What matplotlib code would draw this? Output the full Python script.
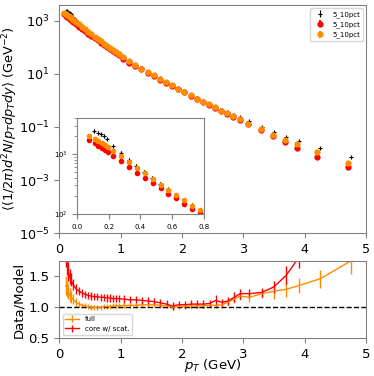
import numpy as np
import matplotlib
matplotlib.use('Agg')
import matplotlib.pyplot as plt
from matplotlib.ticker import NullLocator

# data points (pT bin centres) and spectrum
pt_data = [0.11, 0.13, 0.15, 0.17, 0.19, 0.225, 0.275, 0.325, 0.375, 0.425, 0.475,
           0.525, 0.575, 0.625, 0.675, 0.725, 0.775, 0.825, 0.875, 0.925, 0.975,
           1.05, 1.15, 1.25, 1.35, 1.45, 1.55, 1.65, 1.75, 1.85, 1.95,
           2.05, 2.15, 2.25, 2.35, 2.45, 2.55, 2.65, 2.75, 2.85, 2.95,
           3.1, 3.3, 3.5, 3.7, 3.9, 4.25, 4.75]
y_data = [2455, 2291, 2138, 1995, 1820, 1349, 1047, 794, 631, 501, 398,
          316, 257, 209, 174, 141, 117, 97.7, 81.3, 67.6, 56.2,
          42.7, 30.2, 21.9, 16.2, 12.0, 9.33, 6.76, 4.90, 3.72, 2.79,
          2.11, 1.58, 1.20, 0.912, 0.724, 0.562, 0.427, 0.355, 0.282, 0.240,
          0.164, 0.102, 0.0646, 0.0437, 0.0309, 0.0166, 0.00741]

# model points
pt_model = [0.075, 0.115, 0.135, 0.155, 0.175, 0.195, 0.227, 0.277, 0.327, 0.377, 0.427,
            0.477, 0.527, 0.577, 0.627, 0.677, 0.727, 0.777, 0.827, 0.877, 0.927, 0.977,
            1.04, 1.14, 1.24, 1.34, 1.44, 1.54, 1.64, 1.74, 1.84, 1.94,
            2.04, 2.14, 2.24, 2.34, 2.44, 2.54, 2.64, 2.74, 2.84, 2.94,
            3.08, 3.28, 3.48, 3.68, 3.88, 4.2, 4.7]
y_full = [2042, 1778, 1660, 1549, 1413, 1318, 1122, 912, 741, 589, 479,
          380, 309, 251, 204, 170, 138, 115, 95.5, 79.4, 66.1, 55.0,
          41.7, 29.5, 21.4, 15.8, 11.7, 8.91, 6.46, 4.79, 3.72, 2.75,
          2.09, 1.55, 1.17, 0.891, 0.708, 0.550, 0.407, 0.331, 0.251, 0.204,
          0.135, 0.0832, 0.0501, 0.0324, 0.0224, 0.0112, 0.00427]
y_core = [1738, 1514, 1380, 1288, 1175, 1096, 933, 759, 603, 490, 398,
          331, 269, 219, 182, 148, 123, 105, 87.1, 72.4, 60.3, 50.1,
          38.0, 26.9, 20.0, 14.8, 11.0, 8.32, 6.03, 4.57, 3.55, 2.63,
          2.00, 1.48, 1.12, 0.851, 0.676, 0.513, 0.389, 0.316, 0.240, 0.191,
          0.126, 0.0794, 0.0468, 0.0272, 0.0166, 0.00759, 0.00316]

# data/model ratios
r_full = [1.35, 1.30, 1.25, 1.20, 1.17, 1.13, 1.08, 1.05, 1.03, 1.02, 1.01,
          1.00, 1.00, 1.00, 1.00, 1.01, 1.01, 1.01, 1.02, 1.02, 1.02,
          1.03, 1.03, 1.03, 1.04, 1.04, 1.04, 1.03, 1.02, 1.00, 1.01,
          1.01, 1.02, 1.02, 1.02, 1.03, 1.03, 1.04, 1.08, 1.13, 1.18,
          1.16, 1.22, 1.26, 1.29, 1.35, 1.46, 1.75]
e_full = [0.15, 0.13, 0.12, 0.11, 0.10, 0.08, 0.07, 0.05, 0.04, 0.04, 0.04,
          0.04, 0.04, 0.04, 0.04, 0.04, 0.04, 0.04, 0.04, 0.04, 0.04,
          0.04, 0.04, 0.04, 0.04, 0.04, 0.04, 0.04, 0.04, 0.04, 0.04,
          0.04, 0.04, 0.04, 0.04, 0.04, 0.04, 0.05, 0.05, 0.06, 0.06,
          0.07, 0.07, 0.12, 0.12, 0.12, 0.15, 0.21]
r_core = [1.85, 1.70, 1.58, 1.50, 1.45, 1.37, 1.30, 1.26, 1.23, 1.21, 1.19,
          1.18, 1.17, 1.17, 1.16, 1.16, 1.15, 1.15, 1.14, 1.14, 1.14,
          1.13, 1.12, 1.12, 1.11, 1.10, 1.09, 1.07, 1.05, 1.02, 1.04,
          1.04, 1.05, 1.05, 1.05, 1.06, 1.11, 1.08, 1.10, 1.16, 1.22,
          1.22, 1.24, 1.33, 1.52, 1.80, 2.4, 3.2]
e_core = [0.2, 0.18, 0.15, 0.12, 0.1, 0.09, 0.08, 0.07, 0.07, 0.06, 0.06,
          0.06, 0.06, 0.06, 0.06, 0.06, 0.06, 0.06, 0.06, 0.06, 0.06,
          0.06, 0.06, 0.06, 0.06, 0.06, 0.06, 0.06, 0.06, 0.06, 0.06,
          0.06, 0.06, 0.06, 0.06, 0.06, 0.08, 0.06, 0.06, 0.08, 0.08,
          0.07, 0.07, 0.1, 0.15, 0.17, 0.2, 0.2]

main_yticks = [1e-5, 1e-3, 1e-1, 1e1, 1e3]

orange = '#ff8c00'
grey = '0.5'
fig = plt.figure(figsize=(3.74, 3.76), dpi=100)
ax = fig.add_axes([0.158, 0.380, 0.821, 0.607])
axr = fig.add_axes([0.158, 0.101, 0.821, 0.205])
axin = fig.add_axes([0.206, 0.431, 0.339, 0.255])

yd = np.array(y_data)
yf = np.array(y_full)
yc = np.array(y_core)


def spectra(a, ms):
    a.errorbar(pt_data, yd, yerr=0.07*yd, fmt='k+', ms=ms, mew=0.8, elinewidth=0.8, label='5_10pct')
    a.errorbar(pt_model, yc, yerr=0.03*yc, fmt='o', color='red', ms=ms, label='5_10pct')
    a.errorbar(pt_model, yf, yerr=0.03*yf, fmt='o', color=orange, ms=ms, label='5_10pct')
    a.set_yscale('log')


def grey_frame(a):
    for s in a.spines.values():
        s.set_color(grey)
    a.tick_params(which='both', color=grey)


spectra(ax, 3.5)
ax.set_xlim(0, 5)
ax.set_ylim(1e-5, 4e3)
ax.set_yticks(main_yticks)
ax.yaxis.set_minor_locator(NullLocator())
ax.set_ylabel(r'$\langle(1/2\pi)d^2N/p_T dp_T dy\rangle$ (GeV$^{-2}$)', fontsize=9.3)
ax.yaxis.set_label_coords(-0.128, 0.5)
ax.tick_params(labelsize=9.2)
ax.legend(loc='upper right', fontsize=5)
grey_frame(ax)

spectra(axin, 3)
axin.set_xlim(0, 0.8)
axin.set_ylim(100, 4000)
axin.set_xticks([0.0, 0.2, 0.4, 0.6, 0.8])
axin.tick_params(labelsize=5, which='both')
grey_frame(axin)

axr.errorbar(pt_data, r_full, yerr=e_full, color=orange, lw=1, label='full')
axr.errorbar(pt_data, r_core, yerr=e_core, color='red', lw=1, label='core w/ scat.')
axr.axhline(1.0, color='k', ls='--', lw=1)
axr.set_xlim(0, 5)
axr.set_ylim(0.5, 1.75)
axr.set_yticks([0.5, 1.0, 1.5])
axr.set_ylabel('Data/Model', fontsize=9.5, labelpad=2)
axr.set_xlabel('$p_T$ (GeV)', fontsize=9.5)
axr.xaxis.set_label_coords(0.5, -0.245)
axr.xaxis.label.set_va('top')
axr.tick_params(labelsize=9.5)
axr.legend(loc='lower left', fontsize=5)
grey_frame(axr)

fig.savefig('out.png', dpi=100)
